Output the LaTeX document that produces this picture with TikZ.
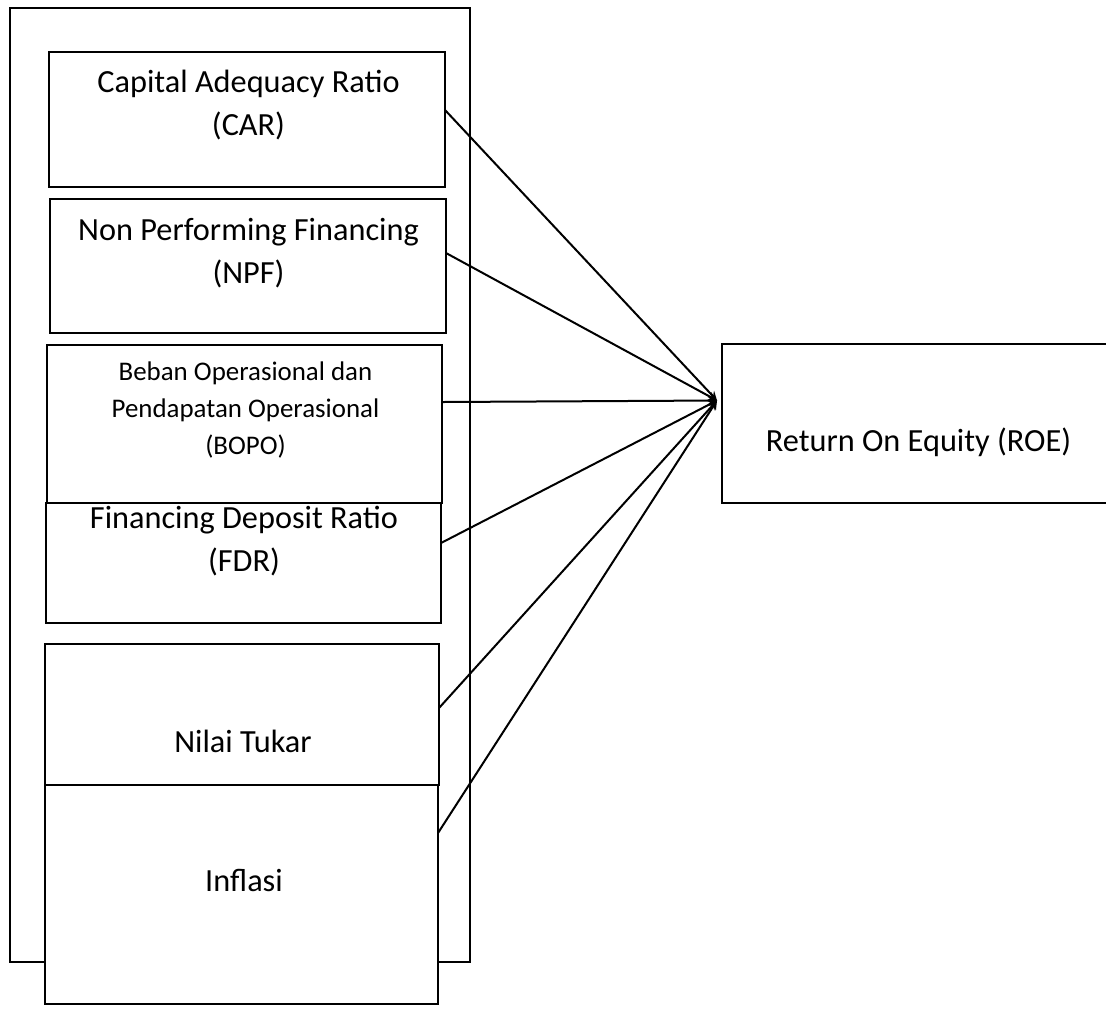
\documentclass[tikz,border=0pt]{standalone}
\usepackage{fontspec}
\setmainfont{Carlito}
\usetikzlibrary{arrows}

\begin{document}
\begin{tikzpicture}[x=0.5pt, y=-0.5pt, >=stealth,
	box/.style={draw, fill=white, line width=1.2pt, inner sep=0pt, outer sep=0pt},
	lbl/.style={align=center, inner sep=0pt, font=\fontsize{16.15}{21.5}\selectfont},
	smalllbl/.style={align=center, inner sep=0pt, font=\fontsize{13.45}{18.5}\selectfont},
	link/.style={->, line width=1pt}]

\useasboundingbox (0,0) rectangle (1106,1008);
\clip (0,0) rectangle (1106,1008);

% frame round the independent variables
\node[box, minimum width=230pt, minimum height=477pt] (frame) at (240,485) {};

\node[box, minimum width=198pt, minimum height=67.5pt] (car) at (247,119.5) {};
\node[box, minimum width=198pt, minimum height=67pt] (npf) at (248,266) {};
\node[box, minimum width=197.5pt, minimum height=79pt] (bopo) at (244.5,424) {};
\node[box, minimum width=197.5pt, minimum height=60pt] (fdr) at (243.5,563) {};
\node[box, minimum width=197pt, minimum height=70.5pt] (kurs) at (242,714.5) {};
\node[box, minimum width=196.5pt, minimum height=109.5pt] (inflasi) at (241.5,894.5) {};
\node[box, minimum width=199pt, minimum height=79.5pt] (roe) at (921,423.5) {};

\node[lbl] (cartxt) at (248.5,105.5) {Capital Adequacy Ratio\\(CAR)};
\node[lbl] (npftxt) at (248.5,253) {Non Performing Financing\\(NPF)};
\node[smalllbl] (bopotxt) at (245.5,410) {Beban Operasional dan\\Pendapatan Operasional\\(BOPO)};
\node[lbl] (fdrtxt) at (244,541.5) {Financing Deposit Ratio\\(FDR)};
\node[lbl] (kurstxt) at (243,741) {Nilai Tukar};
\node[lbl] (inflasitxt) at (244,880) {Inflasi};
\node[lbl] (roetxt) at (918.5,442.5) {Return On Equity (ROE)};

\coordinate (hub) at ([xshift=-2.5pt,yshift=11.5pt]roe.west);

\draw[link] ([yshift=4.75pt]car.east) -- (hub);
\draw[link] ([yshift=6.5pt]npf.east) -- (hub);
\draw[link] ([yshift=11pt]bopo.east) -- (hub);
\draw[link] ([yshift=10pt]fdr.east) -- (hub);
\draw[link] ([yshift=3.25pt]kurs.east) -- (hub);
\draw[link] ([yshift=30.75pt]inflasi.east) -- (hub);
\end{tikzpicture}
\end{document}
